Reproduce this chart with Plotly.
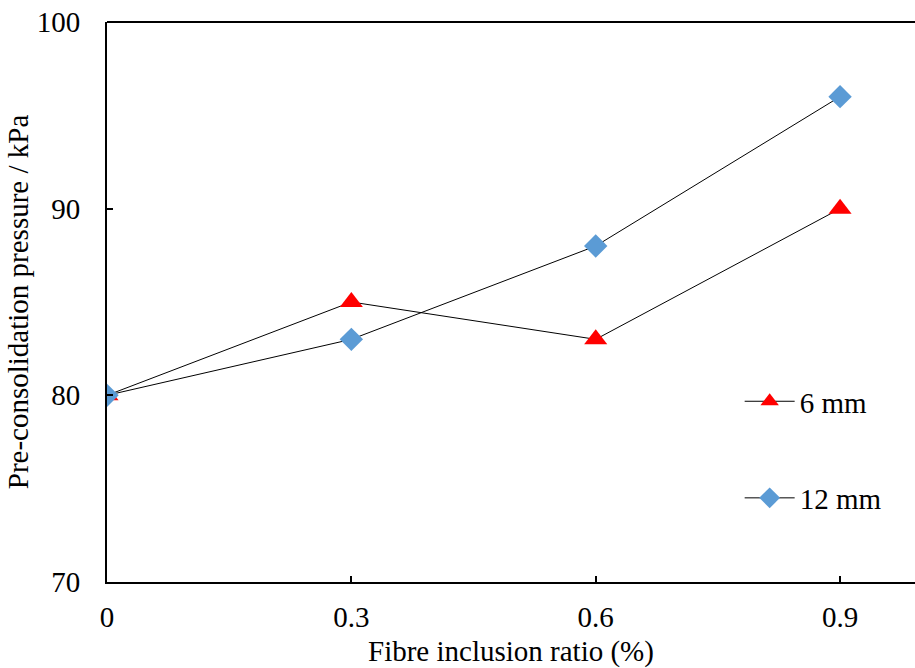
import plotly.graph_objects as go

fibre_ratio = [0, 0.3, 0.6, 0.9]
tick_labels = ["0", "0.3", "0.6", "0.9"]
pressure_6mm = [80, 85, 83, 90]
pressure_12mm = [80, 83, 88, 96]

FONT = "Liberation Serif"
FS = 29

fig = go.Figure()
fig.add_trace(go.Scatter(
    x=fibre_ratio, y=pressure_6mm, name="6 mm", mode="lines+markers",
    line=dict(color="black", width=1),
    marker=dict(symbol="triangle-up", size=20, color="#FF0000"),
    legend="legend",
))
fig.add_trace(go.Scatter(
    x=fibre_ratio, y=pressure_12mm, name="12 mm", mode="lines+markers",
    line=dict(color="black", width=1),
    marker=dict(symbol="diamond", size=18, color="#5B9BD5"),
    legend="legend2",
))

fig.update_layout(
    width=915, height=668,
    margin=dict(l=107, r=0, t=22, b=86),
    paper_bgcolor="white", plot_bgcolor="white",
    font=dict(family=FONT, size=FS, color="black"),
    showlegend=True,
    legend=dict(x=0.783, y=0.3225, xanchor="left", yanchor="middle", itemwidth=50,
                bgcolor="rgba(0,0,0,0)", font=dict(family=FONT, size=FS)),
    legend2=dict(x=0.783, y=0.15, xanchor="left", yanchor="middle", itemwidth=50,
                 bgcolor="rgba(0,0,0,0)", font=dict(family=FONT, size=FS)),
    shapes=[dict(type="line", xref="paper", yref="paper", x0=0, x1=1, y0=1, y1=1,
                 line=dict(color="black", width=2))],
)
fig.update_xaxes(
    range=[0, 0.992], tickvals=fibre_ratio, ticktext=tick_labels,
    showgrid=False, zeroline=False, showline=True, linecolor="black", linewidth=2,
    ticks="inside", ticklen=6, tickwidth=1.5, tickcolor="black", ticklabelstandoff=8,
    title=dict(text="Fibre inclusion ratio (%)", font=dict(family=FONT, size=FS), standoff=9),
    tickfont=dict(family=FONT, size=FS),
)
fig.update_yaxes(
    range=[70, 100], tickvals=[70, 80, 90, 100],
    showgrid=False, zeroline=False, showline=True, linecolor="black", linewidth=2,
    ticks="inside", ticklen=6, tickwidth=1.5, tickcolor="black", ticklabelstandoff=19,
    title=dict(text="Pre-consolidation pressure / kPa", font=dict(family=FONT, size=FS), standoff=0),
    tickfont=dict(family=FONT, size=FS),
)

fig.write_html("out.html")
